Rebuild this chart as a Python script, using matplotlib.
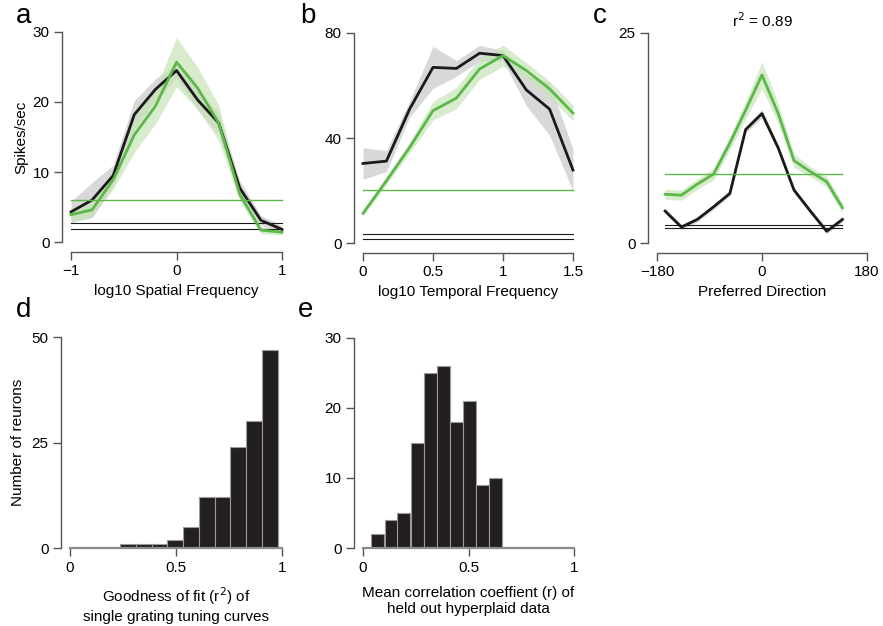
import numpy as np
import matplotlib
matplotlib.use('Agg')
import matplotlib.pyplot as plt

plt.rcParams['font.family'] = ['Liberation Sans', 'DejaVu Sans']
plt.rcParams['font.size'] = 10
plt.rcParams['axes.unicode_minus'] = True

# panel a: spatial frequency tuning
sf_x = [-1.0, -0.8, -0.6, -0.4, -0.2, 0.0, 0.2, 0.4, 0.6, 0.8, 1.0]
sf_data = [4.3, 6.0, 9.5, 18.2, 21.8, 24.5, 20.3, 17.0, 7.7, 3.1, 1.8]
sf_data_err = [1.5, 2.5, 1.5, 2.0, 1.5, 1.0, 1.5, 1.5, 1.0, 0.7, 0.5]
sf_model = [3.9, 4.6, 8.9, 15.3, 19.4, 25.7, 22.0, 17.0, 6.8, 1.7, 1.4]
sf_model_err = [1.0, 1.0, 1.3, 2.5, 2.5, 3.5, 3.0, 2.5, 1.0, 0.5, 0.4]
sf_base_model = 6.05
sf_base_data = [2.7, 1.8]

# panel b: temporal frequency tuning
tf_x = [0.0, 0.167, 0.333, 0.5, 0.667, 0.833, 1.0, 1.167, 1.333, 1.5]
tf_data = [30.3, 31.2, 51.0, 66.9, 66.5, 72.3, 71.4, 58.3, 51.0, 27.8]
tf_data_err = [6, 4, 3, 8, 3, 3, 2, 6, 10, 8]
tf_model = [11.3, 23.7, 36.4, 50.4, 55.2, 66.3, 71.4, 65.7, 58.7, 49.5]
tf_model_err = [1, 1.5, 2, 3.5, 4, 4, 4, 3, 3, 3]
tf_base_model = 20.2
tf_base_data = [3.4, 1.5]

# panel c: direction tuning
dir_x = [-166, -138, -111, -83, -55, -28, 0, 28, 55, 83, 111, 138]
dir_data = [3.8, 1.9, 2.8, 4.3, 5.9, 13.5, 15.4, 11.3, 6.3, 3.8, 1.4, 2.8]
dir_data_err = [0.3, 0.3, 0.3, 0.3, 0.3, 0.4, 0.5, 0.4, 0.3, 0.3, 0.3, 0.3]
dir_model = [5.8, 5.7, 7.0, 8.2, 11.9, 15.8, 20.0, 15.4, 9.8, 8.5, 7.3, 4.2]
dir_model_err = [0.6, 0.6, 0.6, 0.7, 0.8, 1.0, 1.6, 1.2, 0.8, 0.6, 0.6, 0.6]
dir_base_model = 8.2
dir_base_data = [2.2, 1.8]

# panel d: goodness of fit histogram
fit_centers = [0.273, 0.348, 0.422, 0.496, 0.571, 0.645, 0.719, 0.794, 0.868, 0.942]
fit_counts = [1, 1, 1, 2, 5, 12, 12, 24, 30, 47]

# panel e: correlation histogram
corr_centers = [0.071, 0.133, 0.194, 0.256, 0.318, 0.380, 0.441, 0.503, 0.565, 0.626]
corr_counts = [2, 4, 5, 15, 25, 26, 18, 21, 9, 10]

GREEN = '#5cb848'
GREEN_BAND = '#c6e3b8'
BLACK = '#1a1a1a'
GRAY_BAND = '#cfcfcf'
SPINE = '#555555'
BAR = '#231f20'
FS = 11


def style(ax, xt, yt, xl, yl, off_bottom=True):
    for s in ['top', 'right']:
        ax.spines[s].set_visible(False)
    ax.spines['left'].set_position(('outward', 6.5))
    if off_bottom:
        ax.spines['bottom'].set_position(('outward', 7))
    for s in ['left', 'bottom']:
        ax.spines[s].set_color(SPINE)
        ax.spines[s].set_linewidth(1.0)
    ax.set_xlim(xl)
    ax.set_ylim(yl)
    ax.spines['bottom'].set_bounds(xl[0], xl[1])
    ax.spines['left'].set_bounds(yl[0], yl[1])
    ax.set_xticks(xt)
    ax.set_yticks(yt)
    ax.tick_params(direction='out', length=6, width=1.0, color=SPINE,
                   labelsize=FS, pad=3)


def tuning(ax, x, d, de, m, me, bm, bd):
    x = np.array(x)
    d = np.array(d); de = np.array(de)
    m = np.array(m); me = np.array(me)
    ax.fill_between(x, d - de, d + de, color=GRAY_BAND, lw=0, alpha=0.8, clip_on=False)
    ax.plot(x, d, color=BLACK, lw=2.0, clip_on=False)
    for b in bd:
        ax.plot([x[0], x[-1]], [b, b], color=BLACK, lw=0.8, clip_on=False)
    ax.plot([x[0], x[-1]], [bm, bm], color=GREEN, lw=1.0, clip_on=False)
    ax.fill_between(x, m - me, m + me, color=GREEN_BAND, lw=0, alpha=0.7, clip_on=False)
    ax.plot(x, m, color=GREEN, lw=2.0, clip_on=False)


fig = plt.figure(figsize=(8.83, 6.26), dpi=100)

ax_a = fig.add_axes([0.0804, 0.6134, 0.239, 0.3355])
tuning(ax_a, sf_x, sf_data, sf_data_err, sf_model, sf_model_err, sf_base_model, sf_base_data)
style(ax_a, [-1, 0, 1], [0, 10, 20, 30], (-1, 1), (0, 30))
ax_a.set_xlabel('log10 Spatial Frequency', fontsize=FS)
ax_a.set_ylabel('Spikes/sec', fontsize=FS, labelpad=3)

ax_b = fig.add_axes([0.4111, 0.6118, 0.2378, 0.3355])
tuning(ax_b, tf_x, tf_data, tf_data_err, tf_model, tf_model_err, tf_base_model, tf_base_data)
style(ax_b, [0, 0.5, 1, 1.5], [0, 40, 80], (0, 1.5), (0, 80))
ax_b.set_xticklabels(['0', '0.5', '1', '1.5'])
ax_b.set_xlabel('log10 Temporal Frequency', fontsize=FS)

ax_c = fig.add_axes([0.744, 0.6118, 0.2378, 0.3355])
tuning(ax_c, dir_x, dir_data, dir_data_err, dir_model, dir_model_err, dir_base_model, dir_base_data)
style(ax_c, [-180, 0, 180], [0, 25], (-180, 180), (0, 25))
ax_c.set_xlabel('Preferred Direction', fontsize=FS)
ax_c.set_title('r$^2$ = 0.89', fontsize=FS, pad=4)

ax_d = fig.add_axes([0.0793, 0.1246, 0.240, 0.337])
ax_d.bar(fit_centers, fit_counts, width=0.0743, color=BAR, edgecolor='#9a9a9a', linewidth=0.8)
style(ax_d, [0, 0.5, 1], [0, 25, 50], (0, 1), (0, 50), off_bottom=False)
ax_d.spines['bottom'].set_linewidth(1.6)
ax_d.spines['bottom'].set_color('#8a8a8a')
ax_d.set_xticklabels(['0', '0.5', '1'])
ax_d.set_xlabel('Goodness of fit (r$^2$) of\nsingle grating tuning curves', fontsize=FS, labelpad=8)
ax_d.set_ylabel('Number of reurons', fontsize=FS, labelpad=5)

ax_e = fig.add_axes([0.4111, 0.1246, 0.239, 0.3355])
ax_e.bar(corr_centers, corr_counts, width=0.0617, color=BAR, edgecolor='#9a9a9a', linewidth=0.8)
style(ax_e, [0, 0.5, 1], [0, 10, 20, 30], (0, 1), (0, 30), off_bottom=False)
ax_e.spines['bottom'].set_linewidth(1.6)
ax_e.spines['bottom'].set_color('#8a8a8a')
ax_e.set_xticklabels(['0', '0.5', '1'])
ax_e.set_xlabel('Mean correlation coeffient (r) of\nheld out hyperplaid data', fontsize=FS, labelpad=8)

# panel letters
for lab, x, y in [('a', 0.018, 0.995), ('b', 0.340, 0.995), ('c', 0.671, 0.995),
                  ('d', 0.018, 0.525), ('e', 0.337, 0.525)]:
    fig.text(x, y, lab, fontsize=20, va='top', ha='left')

fig.savefig('out.png', dpi=100)
